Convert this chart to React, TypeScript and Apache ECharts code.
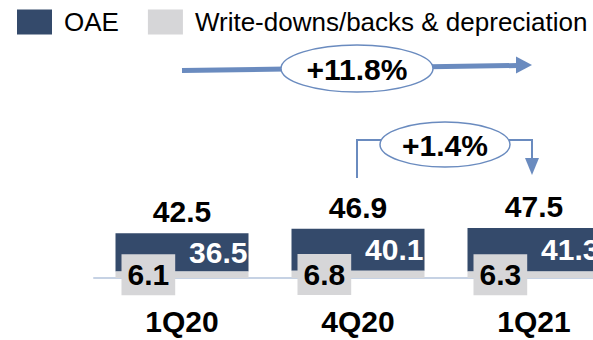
import React, { useEffect, useRef } from "react";
import * as echarts from "echarts";

const categories = ["1Q20", "4Q20", "1Q21"];
const oae = [36.5, 40.1, 41.3];
const writeDowns = [6.1, 6.8, 6.3];
const totals = [42.5, 46.9, 47.5];
const growthYoY = "+11.8%";
const growthQoQ = "+1.4%";

const FONT = '"Liberation Sans", Arial, sans-serif';
const BLUE = "#344a6b";
const GRAY = "#d6d6d8";
const ARROW = "#6a8bbf";
const BIG = 30;

export default function App() {
  const ref = useRef<HTMLDivElement>(null);
  useEffect(() => {
    if (!ref.current) return;
    const chart = echarts.init(ref.current, undefined, { renderer: "svg" });
    chart.setOption({
      animation: false,
      backgroundColor: "#ffffff",
      textStyle: { fontFamily: FONT },
      legend: {
        left: 17,
        top: 9,
        padding: 0,
        width: 1000,
        itemWidth: 35,
        itemHeight: 25,
        itemGap: 29,
        icon: "rect",
        data: ["OAE", "Write-downs/backs & depreciation"],
        textStyle: { fontSize: 26, color: "#000", fontFamily: FONT, padding: [0, 0, 0, 7] },
      },
      grid: { left: 94, top: 71, width: 528, height: 207 },
      xAxis: {
        type: "category",
        data: categories,
        axisLine: { show: true, lineStyle: { color: "#c6d2e4", width: 2 } },
        axisTick: { show: false },
        axisLabel: { margin: 28, fontSize: BIG, fontWeight: "bold", color: "#000", fontFamily: FONT },
      },
      yAxis: { type: "value", min: 0, max: 197, show: false, splitLine: { show: false } },
      series: [
        {
          name: "Write-downs/backs & depreciation",
          type: "bar",
          stack: "t",
          barWidth: 133,
          data: writeDowns,
          itemStyle: { color: GRAY },
          label: {
            show: true,
            position: "insideLeft",
            distance: 6,
            backgroundColor: GRAY,
            padding: [6, 6, 5, 6],
            color: "#000",
            fontSize: BIG,
            fontWeight: "bold",
            fontFamily: FONT,
          },
          z: 3,
        },
        {
          name: "OAE",
          type: "bar",
          stack: "t",
          barWidth: 133,
          data: oae,
          itemStyle: { color: BLUE },
          label: {
            show: true,
            position: "insideRight",
            distance: 1,
            color: "#fff",
            fontSize: BIG,
            fontWeight: "bold",
            fontFamily: FONT,
          },
          z: 2,
        },
        {
          name: "Total",
          type: "scatter",
          data: totals,
          symbolSize: 1,
          itemStyle: { color: "rgba(0,0,0,0)", opacity: 1 },
          label: {
            show: true,
            position: "top",
            distance: 6,
            color: "#000",
            fontSize: BIG,
            fontWeight: "bold",
            fontFamily: FONT,
          },
        },
      ],
    });

    const cx = categories.map((c) => chart.convertToPixel({ xAxisIndex: 0 }, c) as number);
    const [c0, c1, c2] = cx;
    const mid = (c1 + c2) / 2;
    const txt = (text: string, x: number, y: number) => ({
      type: "text",
      z: 12,
      style: {
        text,
        x,
        y,
        align: "center",
        verticalAlign: "middle",
        fontSize: BIG,
        fontWeight: "bold",
        fontFamily: FONT,
        fill: "#000",
      },
    });
    chart.setOption({
      graphic: [
        { type: "line", z: 10, shape: { x1: c0, y1: 70.5, x2: c2 - 16, y2: 65.5 }, style: { stroke: ARROW, lineWidth: 5 } },
        { type: "polygon", z: 10, shape: { points: [[c2 - 18, 56.5], [c2 - 2, 65], [c2 - 18, 73.5]] }, style: { fill: ARROW } },
        { type: "ellipse", z: 11, shape: { cx: c1 - 1, cy: 68.5, rx: 76, ry: 23.5 }, style: { fill: "#fff", stroke: ARROW, lineWidth: 1.5 } },
        txt(growthYoY, c1 - 1, 69),
        { type: "polyline", z: 10, shape: { points: [[c1 - 1, 178], [c1 - 1, 140], [mid - 60, 140]] }, style: { stroke: ARROW, lineWidth: 2, fill: null } },
        { type: "polyline", z: 10, shape: { points: [[mid + 60, 140], [c2 - 2, 140], [c2 - 2, 160]] }, style: { stroke: ARROW, lineWidth: 2, fill: null } },
        { type: "polygon", z: 10, shape: { points: [[c2 - 9, 158], [c2 + 5, 158], [c2 - 2, 175]] }, style: { fill: ARROW } },
        { type: "ellipse", z: 11, shape: { cx: mid - 1, cy: 144.5, rx: 65, ry: 22.5 }, style: { fill: "#fff", stroke: ARROW, lineWidth: 1.5 } },
        txt(growthQoQ, mid - 1, 145),
      ],
    });
    return () => chart.dispose();
  }, []);
  return (
    <div style={{ width: 593, height: 340, position: "absolute", left: 0, top: 0, overflow: "hidden" }}>
      <div ref={ref} style={{ width: 640, height: 340 }} />
    </div>
  );
}
